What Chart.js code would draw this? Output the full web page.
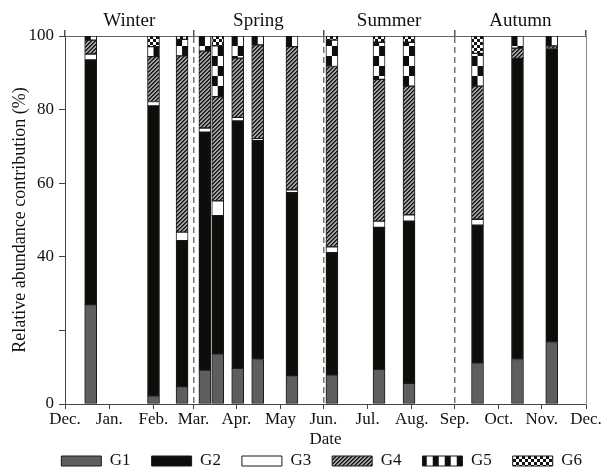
<!DOCTYPE html>
<html>
<head>
<meta charset="utf-8">
<script src="https://cdn.jsdelivr.net/npm/chart.js@4"></script>
<style>
    html, body { margin: 0; padding: 0; background: #fff; }
    canvas { display: block; }
</style>
</head>
<body>
<canvas id="graficoBarras" width="603" height="472"></canvas>
<script>
// Dias de amostragem (contados a partir de 1 Dec.)
const sampleDay = [18, 62, 82, 98, 107, 121, 135, 159, 187, 220, 241, 289, 317, 341];

// Contribuição relativa (%) de cada grupo
const g1 = [27.0, 2.2, 4.7, 9.2, 13.6, 9.7, 12.1, 7.7, 7.9, 9.4, 5.6, 11.2, 12.1, 16.7];
const g2 = [66.5, 78.8, 39.7, 64.7, 37.6, 67.2, 59.6, 49.7, 33.2, 38.6, 44.1, 37.4, 81.8, 79.9];
const g3 = [1.6, 1.2, 2.3, 1.1, 4.0, 1.0, 0.4, 0.8, 1.6, 1.7, 1.7, 1.6, null, null];
const g4 = [3.8, 12.2, 47.9, 20.9, 28.3, 16.1, 25.5, 38.9, 49.0, 38.5, 35.0, 36.2, 2.8, 0.7];
const g5 = [1.1, 2.7, 4.5, 4.1, 13.8, 6.0, 2.4, 2.9, 7.2, 10.1, 11.9, 8.9, 3.3, 2.7];
const g6 = [null, 2.9, 0.9, null, 2.7, null, null, null, 1.1, 1.7, 1.7, 4.7, null, null];

// Eixo de meses
const monthDay = [0, 31, 62, 90, 120, 151, 181, 212, 243, 273, 304, 334, 365];
const monthLabels = ['Dec.', 'Jan.', 'Feb.', 'Mar.', 'Apr.', 'May', 'Jun.', 'Jul.', 'Aug.', 'Sep.', 'Oct.', 'Nov.', 'Dec.'];

// Estações
const seasonEdge = [0, 90, 181, 273, 365];
const seasonNames = ['Winter', 'Spring', 'Summer', 'Autumn'];

const cv = document.getElementById('graficoBarras');
const ctx = cv.getContext('2d');
const fonte = "'Liberation Serif', 'Times New Roman', serif";
const barPx = 12;

Chart.defaults.font.family = fonte;
Chart.defaults.color = '#111';

// Padrões de preenchimento
function tile(w, h, paint) {
    const c = document.createElement('canvas');
    c.width = w;
    c.height = h;
    paint(c.getContext('2d'));
    return c;
}

const hatchTile = tile(4, 4, g => {
    g.fillStyle = '#a2a2a2';
    g.fillRect(0, 0, 4, 4);
    for (let x = 0; x < 4; x++) {
        for (let y = 0; y < 4; y++) {
            const k = (x + y) % 4;
            if (k === 3) { g.fillStyle = '#111'; g.fillRect(x, y, 1, 1); }
            else if (k === 0) { g.fillStyle = '#3a3a3a'; g.fillRect(x, y, 1, 1); }
        }
    }
});

const checkerTile = tile(12, 20, g => {
    g.fillStyle = '#fff';
    g.fillRect(0, 0, 12, 20);
    g.fillStyle = '#0b0e09';
    g.fillRect(0, 0, 6, 10);
    g.fillRect(6, 10, 6, 10);
});

const fineTile = tile(6, 6, g => {
    g.fillStyle = '#fff';
    g.fillRect(0, 0, 6, 6);
    g.fillStyle = '#111';
    g.fillRect(0, 0, 3, 3);
    g.fillRect(3, 3, 3, 3);
});

const hatch = ctx.createPattern(hatchTile, 'repeat');
const fine = ctx.createPattern(fineTile, 'repeat');
const checker = ctx.createPattern(checkerTile, 'repeat');

// xadrez alinhado com a borda de cada barra
function blocoG5(c) {
    const sx = c.chart.scales && c.chart.scales.x;
    if (c.type !== 'data' || !sx || !c.chart.chartArea) return checker;
    const p = ctx.createPattern(checkerTile, 'repeat');
    const left = sx.getPixelForValue(sampleDay[c.dataIndex]) - barPx / 2;
    p.setTransform(new DOMMatrix().translate(left, c.chart.chartArea.top));
    return p;
}

const pontos = serie => sampleDay.map((d, i) => ({ x: d, y: serie[i] }));

const comum = {
    barThickness: barPx,
    borderWidth: 1,
    borderColor: '#1a1a1a',
    borderSkipped: false
};

const topTicks = [];
seasonEdge.forEach((d, i) => {
    topTicks.push({ value: d, label: '' });
    if (i < seasonNames.length) {
        topTicks.push({ value: (d + seasonEdge[i + 1]) / 2, label: seasonNames[i] });
    }
});
const innerEdges = seasonEdge.slice(1, -1);
const tickVal = c => (c && c.tick ? c.tick.value : null);

new Chart(ctx, {
    type: 'bar',
    data: {
        datasets: [
            { ...comum, label: 'G1', data: pontos(g1), backgroundColor: '#5e5e5e' },
            { ...comum, label: 'G2', data: pontos(g2), backgroundColor: '#0b0e09' },
            { ...comum, label: 'G3', data: pontos(g3), backgroundColor: '#ffffff' },
            { ...comum, label: 'G4', data: pontos(g4), backgroundColor: hatch },
            { ...comum, label: 'G5', data: pontos(g5), backgroundColor: blocoG5 },
            { ...comum, label: 'G6', data: pontos(g6), backgroundColor: fine }
        ]
    },
    options: {
        responsive: false,
        animation: false,
        layout: { padding: { left: 0, right: 0, top: 0, bottom: -7.5 } },
        plugins: {
            legend: {
                position: 'bottom',
                align: 'end',
                labels: {
                    boxWidth: 40,
                    boxHeight: 10,
                    padding: 21,
                    color: '#111',
                    font: { family: fonte, size: 17 }
                }
            },
            tooltip: { enabled: false }
        },
        scales: {
            x: {
                type: 'linear',
                position: 'bottom',
                min: 0,
                max: 365,
                stacked: true,
                offset: false,
                afterBuildTicks: s => { s.ticks = monthDay.map(v => ({ value: v })); },
                afterFit: s => { s.height = 27.5; },
                ticks: {
                    autoSkip: false,
                    maxRotation: 0,
                    padding: 0,
                    color: '#111',
                    font: { size: 17 },
                    callback: (v, i) => monthLabels[i]
                },
                grid: { offset: false, drawOnChartArea: false, drawTicks: true, tickLength: 5, tickColor: '#444' },
                border: { color: '#444', width: 1 },
                title: {
                    display: true,
                    text: 'Date',
                    color: '#111',
                    font: { size: 17 },
                    padding: { top: 0, bottom: -18.7 }
                }
            },
            xTop: {
                type: 'linear',
                position: 'top',
                min: 0,
                max: 365,
                offset: false,
                afterBuildTicks: s => { s.ticks = topTicks.map(t => ({ value: t.value })); },
                afterFit: s => { s.height = 36; },
                ticks: {
                    autoSkip: false,
                    maxRotation: 0,
                    padding: -2,
                    color: '#111',
                    font: { size: 19 },
                    callback: (v, i) => topTicks[i].label
                },
                grid: {
                    offset: false,
                    drawOnChartArea: true,
                    drawTicks: true,
                    tickLength: 6,
                    lineWidth: 1.5,
                    color: c => innerEdges.includes(tickVal(c)) ? '#777' : 'rgba(0,0,0,0)',
                    tickColor: c => seasonEdge.includes(tickVal(c)) ? '#555' : 'rgba(0,0,0,0)'
                },
                border: { color: '#666', width: 1, dash: [6, 4] }
            },
            y: {
                stacked: true,
                min: 0,
                max: 100,
                position: 'left',
                afterFit: s => { s.width = 65; },
                ticks: {
                    stepSize: 20,
                    padding: 5,
                    color: '#111',
                    font: { size: 17 },
                    callback: v => (v === 20 ? '' : v)
                },
                grid: { drawOnChartArea: false, drawTicks: true, tickLength: 6, tickColor: '#444' },
                border: { color: '#444', width: 1 },
                title: {
                    display: true,
                    text: 'Relative abundance contribution (%)',
                    color: '#111',
                    font: { size: 18 },
                    padding: { top: 9, bottom: 0 }
                }
            },
            y2: {
                position: 'right',
                min: 0,
                max: 100,
                afterFit: s => { s.width = 17; },
                ticks: { display: false },
                grid: { drawOnChartArea: false, drawTicks: false },
                border: { color: '#888', width: 1 }
            }
        }
    }
});
</script>
</body>
</html>
